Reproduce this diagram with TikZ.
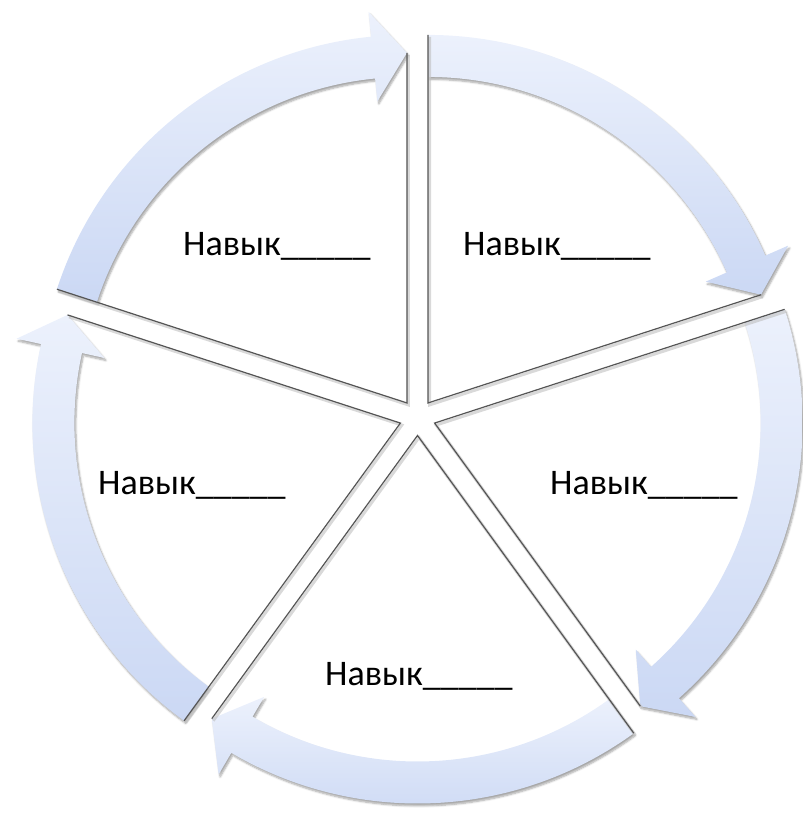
\documentclass[tikz,border=0pt]{standalone}
\usepackage{fontspec}
\setmainfont{Carlito}
\usetikzlibrary{calc,shadows.blur}

\definecolor{bandtop}{RGB}{236,241,252}
\definecolor{bandbot}{RGB}{203,216,244}
\definecolor{edgegray}{RGB}{85,85,85}
\tikzset{
  band/.style={top color=bandtop,bottom color=bandbot,draw=none,
    blur shadow={shadow xshift=1.5pt,shadow yshift=-2.5pt,shadow opacity=35,shadow blur steps=6}},
  edgeline/.style={draw=edgegray,line width=1.2pt},
  edgeshadow/.style={draw=black!25,line width=3pt,opacity=0.6},
  skill/.style={font=\fontsize{36}{40}\selectfont,anchor=base west,inner sep=0pt}
}

\begin{document}
\begin{tikzpicture}[x=1pt,y=1pt]
\useasboundingbox (0,0) rectangle (803,815);
\coordinate (c) at (417.5,397.5);

% five wedges: bisector \a, tail at \a+36, arrow head at \a-36
\foreach \a/\n in {126/tl,54/tr,-18/r,-90/b,-162/l}{
  \coordinate (\n) at ($(c)+(\a:18)$);
  \begin{scope}[shift={(\n)}]
    \pgfmathsetmacro\t{\a+36}
    \pgfmathsetmacro\h{\a-36}
    \pgfmathsetmacro\s{\a-30.4}
    % arrow band
    \path[band] (\t:368) arc[start angle=\t,end angle=\s,radius=368]
      -- (\s:393) -- (\h:350) -- (\s:303) -- (\s:326)
      arc[start angle=\s,end angle=\t,radius=326] -- cycle;
    % straight edges
    \draw[edgeshadow,shift={(1.5,-2)}] (\t:368) -- (0,0) -- (\h:350);
    \draw[edgeline] (\t:368) -- (0,0) -- (\h:350);
  \end{scope}
}

% labels
\node[skill] (s1) at (183,559) {Навык\_\_\_\_\_};
\node[skill] (s2) at (463,559) {Навык\_\_\_\_\_};
\node[skill] (s3) at (550,320) {Навык\_\_\_\_\_};
\node[skill] (s4) at (325,129) {Навык\_\_\_\_\_};
\node[skill] (s5) at (98,320) {Навык\_\_\_\_\_};
\end{tikzpicture}
\end{document}
